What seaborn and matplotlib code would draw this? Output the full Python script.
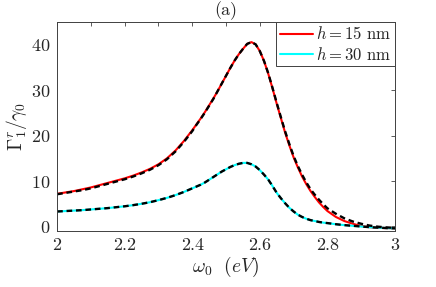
import matplotlib
matplotlib.use("Agg")
import matplotlib.pyplot as plt
import seaborn as sns
import pandas as pd
import numpy as np

# photon energy grid (eV), denser around the resonance
w0 = [2.000, 2.025, 2.050, 2.075, 2.100, 2.125, 2.150, 2.175, 2.200, 2.225,
      2.250, 2.275, 2.300, 2.325, 2.350, 2.375,
      2.4000, 2.4125, 2.4250, 2.4375, 2.4500, 2.4625, 2.4750, 2.4875,
      2.5000, 2.5125, 2.5250, 2.5375, 2.5500, 2.5625, 2.5750, 2.5875,
      2.6000, 2.6125, 2.6250, 2.6375, 2.6500, 2.6625, 2.6750, 2.6875,
      2.7000, 2.7125, 2.7250, 2.7375, 2.7500, 2.7625, 2.7750, 2.7875,
      2.800, 2.825, 2.850, 2.875, 2.900, 2.925, 2.950, 2.975, 3.000]

# h = 15 nm, full calculation
g15 = [7.2, 7.5, 7.8, 8.2, 8.6, 9.1, 9.6, 10.1, 10.6, 11.2,
       11.9, 12.7, 13.7, 15.0, 16.7, 18.8,
       21.2, 22.5, 23.8, 25.2, 26.7, 28.2, 29.8, 31.5,
       33.2, 34.9, 36.5, 37.9, 39.1, 40.2, 40.6, 40.1,
       38.6, 36.4, 33.6, 30.4, 27.0, 23.8, 20.6, 17.8,
       15.2, 13.0, 11.0, 9.3, 7.8, 6.5, 5.3, 4.3,
       3.4, 2.1, 1.2, 0.6, 0.1, -0.15, -0.3, -0.35, -0.4]
# h = 15 nm, approximation (dashed)
g15_fit = [7.1, 7.4, 7.7, 8.0, 8.4, 8.9, 9.4, 9.9, 10.4, 11.0,
           11.7, 12.5, 13.5, 14.8, 16.5, 18.6,
           21.0, 22.4, 23.7, 25.1, 26.6, 28.1, 29.8, 31.5,
           33.2, 34.9, 36.5, 37.9, 39.1, 40.2, 40.6, 40.1,
           38.6, 36.4, 33.7, 30.5, 27.2, 24.0, 20.9, 18.1,
           15.5, 13.3, 11.4, 9.7, 8.2, 7.0, 5.9, 4.9,
           4.0, 2.8, 1.8, 1.1, 0.6, 0.2, -0.05, -0.2, -0.3]

# h = 30 nm
g30 = [3.3, 3.4, 3.5, 3.6, 3.75, 3.9, 4.05, 4.25, 4.45, 4.7,
       5.0, 5.35, 5.8, 6.3, 6.9, 7.6,
       8.4, 8.8, 9.2, 9.7, 10.3, 10.9, 11.5, 12.1,
       12.6, 13.1, 13.5, 13.8, 14.0, 14.0, 13.7, 13.2,
       12.4, 11.4, 10.3, 8.9, 7.4, 6.2, 5.1, 4.1,
       3.3, 2.6, 2.1, 1.7, 1.4, 1.2, 1.0, 0.85,
       0.75, 0.5, 0.3, 0.15, 0.0, -0.15, -0.25, -0.35, -0.4]
g30_fit = list(g30)

labels = [r'$h=15$ nm', r'$h=30$ nm']
colors = ['#ff0000', '#00ffff']

sns.set_style("white")
plt.rcParams['font.family'] = 'serif'
plt.rcParams['font.serif'] = ['cmr10', 'DejaVu Serif']
plt.rcParams['mathtext.fontset'] = 'cm'
plt.rcParams['axes.formatter.use_mathtext'] = True
plt.rcParams['axes.unicode_minus'] = False

df = pd.DataFrame({'w0': w0, 'g15': g15, 'g15_fit': g15_fit,
                   'g30': g30, 'g30_fit': g30_fit})

fig = plt.figure(figsize=(4.36, 2.87), dpi=100)
ax = fig.add_axes([0.131, 0.195, 0.775, 0.728])

sns.lineplot(data=df, x='w0', y='g15', color=colors[0], lw=1.5,
             label=labels[0], ax=ax)
sns.lineplot(data=df, x='w0', y='g30', color=colors[1], lw=1.5,
             label=labels[1], ax=ax)
sns.lineplot(data=df, x='w0', y='g15_fit', color='black', lw=1.7,
             ax=ax, legend=False)
sns.lineplot(data=df, x='w0', y='g30_fit', color='black', lw=1.7,
             ax=ax, legend=False)
for ln in ax.lines[2:]:
    ln.set_dashes((2.4, 1.6))

ax.set_xlim(2, 3)
ax.set_ylim(-1, 45)
ax.set_xticks(np.arange(2, 3.01, 0.2))
ax.set_xticklabels(['2', '2.2', '2.4', '2.6', '2.8', '3'])
ax.set_xticks(np.arange(2.1, 3.0, 0.2), minor=True)
ax.set_yticks([0, 10, 20, 30, 40])
ax.tick_params(which='both', direction='in', top=True, right=True,
               length=3, width=0.6, color='#404040', labelsize=13,
               labelcolor='#262626', pad=5)
for s in ax.spines.values():
    s.set_color('#404040')
    s.set_linewidth(0.7)

ax.set_xlabel(r'$\omega_0\ \ (eV)$', fontsize=14, labelpad=1)
ax.set_ylabel(r'$\Gamma_1^r/\gamma_0$', fontsize=14, labelpad=1)
ax.set_title('(a)', fontsize=13, pad=5)

leg = ax.legend(loc='upper right', fontsize=12, handlelength=2.0,
                handletextpad=0.2, borderpad=0.2, labelspacing=0.2,
                borderaxespad=0.0, fancybox=False, framealpha=1)
leg.get_frame().set_edgecolor('#404040')
leg.get_frame().set_linewidth(0.7)

fig.savefig('out.png', dpi=100)
